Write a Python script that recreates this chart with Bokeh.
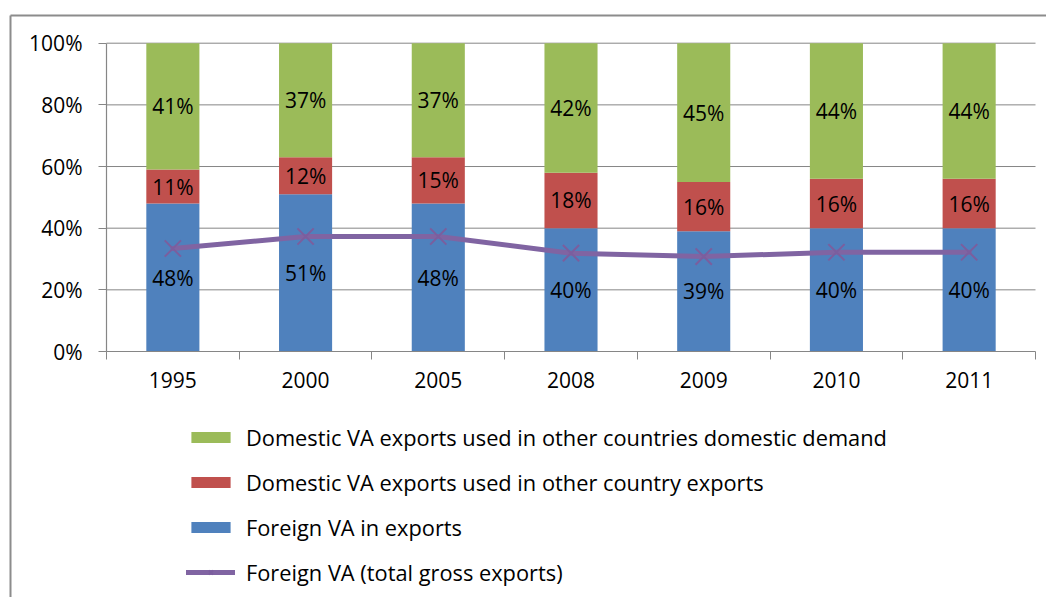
from bokeh.plotting import figure
from bokeh.models import (ColumnDataSource, FixedTicker, PrintfTickFormatter, Range1d,
                          Legend, LegendItem, LinearAxis)
from bokeh.core.properties import value
from bokeh.embed import file_html
from bokeh.resources import INLINE

# ---- data ----
years = ["1995", "2000", "2005", "2008", "2009", "2010", "2011"]
foreign_va = [48, 51, 48, 40, 39, 40, 40]            # Foreign VA in exports (%)
dom_other_exports = [11, 12, 15, 18, 16, 16, 16]     # Domestic VA used in other country exports (%)
dom_other_demand = [41, 37, 37, 42, 45, 44, 44]      # Domestic VA used in other countries domestic demand (%)
foreign_total = [33.4, 37.3, 37.3, 31.9, 30.8, 32.2, 32.2]  # Foreign VA (total gross exports) (%)
y_ticks = [0, 20, 40, 60, 80, 100]

FONT = "Open Sans"
GREEN, RED, BLUE, PURPLE = "#9BBB59", "#C0504D", "#4F81BD", "#8064A2"
GRAY = "#868686"

# ---- layout (canvas pixels) ----
W, H = 1046, 597
PL, PR, PT, PB = 106, 1035, 42.7, 351     # plot-area box inside the canvas
BX, BY = 10, 15                           # chart-area border (left / top edge)
n = len(years)
xs = (PR - PL) / n
ys = (PB - PT) / 100.0
x0d, x1d = -PL / xs, n + (W - PR) / xs
y0d, y1d = -(H - PB) / ys, 100 + PT / ys
x_range = Range1d(x0d, x1d)
y_range = Range1d(y0d, y1d)

xpos = [i + 0.5 for i in range(n)]
src = ColumnDataSource(dict(
    x=xpos, years=years,
    blue=foreign_va, red=dom_other_exports, green=dom_other_demand, line=foreign_total,
))

p = figure(width=W, height=H, output_backend="svg", toolbar_location=None,
           x_range=x_range, y_range=y_range, x_axis_type=None, y_axis_type=None,
           min_border=0, min_border_left=0, min_border_right=0, min_border_top=0,
           min_border_bottom=0)
p.outline_line_color = None
p.background_fill_color = "white"
p.border_fill_color = "white"
p.xgrid.visible = False
p.ygrid.visible = False

# chart-area border (left and top edges visible)
bx = x0d + BX / xs
by = y1d - BY / ys
p.multi_line(xs=[[bx, bx], [bx, x1d + 1]], ys=[[y0d - 1, by], [by, by]],
             line_color="#8c8c8c", line_width=2)

# horizontal gridlines across the plot area
gl = [t for t in y_ticks if t > 0]
p.segment(x0=[0] * len(gl), x1=[n] * len(gl), y0=gl, y1=gl, line_color=GRAY, line_width=1)

stack = p.vbar_stack(["blue", "red", "green"], x="x", width=0.4, source=src,
                     color=[BLUE, RED, GREEN], line_color=None)

# data labels at segment centres
lab_x, lab_y, lab_t = [], [], []
for i in range(n):
    base = 0
    for v in (foreign_va[i], dom_other_exports[i], dom_other_demand[i]):
        lab_x.append(xpos[i])
        lab_y.append(base + v / 2)
        lab_t.append(f"{v}%")
        base += v
lsrc = ColumnDataSource(dict(x=lab_x, y=lab_y, t=lab_t))
p.text(x="x", y="y", text="t", source=lsrc, text_align="center", text_baseline="middle",
       text_font=value(FONT), text_font_size="21px", text_color="black")

ln = p.line("x", "line", source=src, line_color=PURPLE, line_width=5, line_cap="round",
            line_join="round")
mk = p.scatter("x", "line", source=src, marker="x", size=23, line_color="#7B5E9E",
               line_width=2)

# axes fixed at the plot-area edges
ya = LinearAxis(fixed_location=0, bounds=(0, 100))
ya.ticker = FixedTicker(ticks=y_ticks)
ya.formatter = PrintfTickFormatter(format="%d%%")
ya.axis_line_color = GRAY
ya.axis_line_width = 1.2
ya.major_tick_line_color = GRAY
ya.major_tick_in = 0
ya.major_tick_out = 8
ya.minor_tick_line_color = None
ya.major_label_standoff = 16
ya.major_label_text_font = FONT
ya.major_label_text_font_size = "21px"
ya.major_label_text_color = "black"
p.add_layout(ya, "left")

xa = LinearAxis(fixed_location=0, bounds=(0, n))
xa.ticker = FixedTicker(ticks=xpos, minor_ticks=list(range(n + 1)))
xa.major_label_overrides = {xpos[i]: years[i] for i in range(n)}
xa.axis_line_color = GRAY
xa.axis_line_width = 1.2
xa.major_tick_line_color = None
xa.major_tick_in = 0
xa.major_tick_out = 8
xa.minor_tick_line_color = GRAY
xa.minor_tick_in = 0
xa.minor_tick_out = 8
xa.major_label_standoff = 12
xa.major_label_text_font = FONT
xa.major_label_text_font_size = "21px"
xa.major_label_text_color = "black"
p.add_layout(xa, "below")

ITEM_H, GAP = 30, 15
LEG_H = 4 * ITEM_H + 3 * GAP
LEG_TOP = 437 - ITEM_H / 2
legend = Legend(items=[
    LegendItem(label="Domestic VA exports used in other countries domestic demand", renderers=[stack[2]]),
    LegendItem(label="Domestic VA exports used in other country exports", renderers=[stack[1]]),
    LegendItem(label="Foreign VA in exports", renderers=[stack[0]]),
    LegendItem(label="Foreign VA (total gross exports)", renderers=[ln, mk]),
], location=(186, H - LEG_TOP - LEG_H), orientation="vertical")
legend.padding = 0
legend.margin = 0
legend.border_line_color = None
legend.background_fill_alpha = 0
legend.glyph_width = 49
legend.glyph_height = 14
legend.label_height = ITEM_H
legend.spacing = GAP
legend.label_standoff = 11
legend.label_text_font = FONT
legend.label_text_font_size = "21.8px"
legend.label_text_color = "black"
p.add_layout(legend, "center")

open("out.html", "w").write(file_html(p, INLINE))
